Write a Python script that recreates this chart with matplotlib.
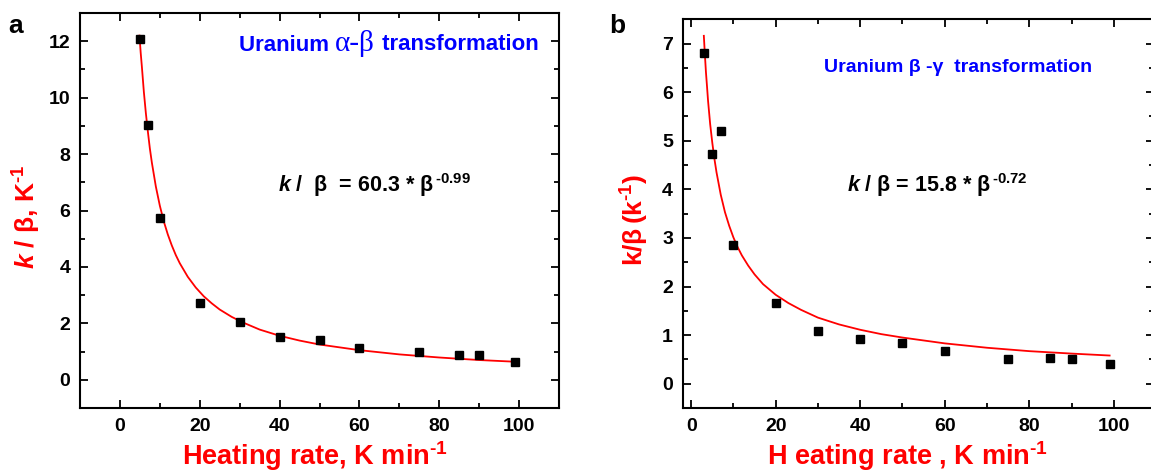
import matplotlib
matplotlib.use("Agg")
import matplotlib.pyplot as plt
from matplotlib.ticker import MultipleLocator

# ----- DATA -----
# panel a: Uranium alpha-beta
rate_a = [5, 7, 10, 20, 30, 40, 50, 60, 75, 85, 90, 99]
kb_a   = [12.07, 9.03, 5.73, 2.73, 2.05, 1.50, 1.42, 1.12, 0.97, 0.88, 0.87, 0.63]
fit_x_a = [4.9, 5.2, 5.5, 6, 6.5, 7, 7.5, 8, 9, 10, 11, 12, 13, 14, 15, 17, 19, 21, 23, 25,
           28, 31, 35, 40, 45, 50, 60, 70, 80, 90, 99]
fit_y_a = [12.2, 11.6, 11.1, 10.2, 9.45, 8.8, 8.2, 7.7, 6.85, 6.17, 5.61, 5.15, 4.76, 4.42,
           4.13, 3.65, 3.27, 2.96, 2.71, 2.49, 2.23, 2.02, 1.78, 1.56, 1.39, 1.25, 1.05,
           0.90, 0.79, 0.70, 0.64]

# panel b: Uranium beta-gamma
rate_b = [3, 5, 7, 10, 20, 30, 40, 50, 60, 75, 85, 90, 99]
kb_b   = [6.80, 4.72, 5.20, 2.86, 1.66, 1.09, 0.91, 0.84, 0.67, 0.51, 0.53, 0.51, 0.41]
fit_x_b = [3, 3.25, 3.5, 3.75, 4, 4.5, 5, 5.5, 6, 7, 8, 9, 10, 11, 12, 13.5, 15, 17, 20,
           23, 26, 30, 35, 40, 45, 50, 60, 70, 80, 90, 99]
fit_y_b = [7.16, 6.77, 6.41, 6.12, 5.82, 5.34, 4.96, 4.63, 4.35, 3.89, 3.53, 3.25, 3.01,
           2.81, 2.64, 2.43, 2.25, 2.05, 1.83, 1.66, 1.52, 1.36, 1.22, 1.11, 1.02, 0.95,
           0.83, 0.74, 0.67, 0.62, 0.58]

plt.rcParams['font.family'] = ['Liberation Sans', 'DejaVu Sans']
plt.rcParams['font.weight'] = 'bold'
plt.rcParams['axes.labelweight'] = 'bold'
plt.rcParams['mathtext.fontset'] = 'custom'
plt.rcParams['mathtext.rm'] = 'Liberation Sans:bold'
plt.rcParams['mathtext.bf'] = 'Liberation Sans:bold'
plt.rcParams['mathtext.it'] = 'Liberation Sans:bold:italic'
plt.rcParams['mathtext.default'] = 'bf'

W, H = 1151, 475
fig = plt.figure(figsize=(W / 100, H / 100), dpi=100)


def px_axes(left, right, top, bottom):
    return fig.add_axes([left / W, 1 - bottom / H, (right - left) / W, (bottom - top) / H])


def style(ax):
    for s in ax.spines.values():
        s.set_linewidth(1.5)
    ax.tick_params(which='both', direction='in', top=True, right=True,
                   width=1.3, labelsize=14, pad=7)
    ax.tick_params(which='major', length=6)
    ax.tick_params(which='minor', length=3.5)
    fmt = lambda v, pos: f"{v:g}"
    ax.xaxis.set_major_formatter(fmt)
    ax.yaxis.set_major_formatter(fmt)
    plt.setp(ax.get_xticklabels() + ax.get_yticklabels(), fontweight='bold')


# ----- panel a -----
ax1 = px_axes(80, 559, 13, 408)
ax1.plot(fit_x_a, fit_y_a, color='red', lw=1.3, zorder=2)
ax1.plot(rate_a, kb_a, 's', color='black', ms=6.3, zorder=3)
ax1.set_xlim(-10, 110)
ax1.set_ylim(-1, 13)
ax1.xaxis.set_major_locator(MultipleLocator(20))
ax1.xaxis.set_minor_locator(MultipleLocator(10))
ax1.yaxis.set_major_locator(MultipleLocator(2))
ax1.yaxis.set_minor_locator(MultipleLocator(1))
style(ax1)
ax1.set_xlabel(r"Heating rate, K min$^{\text{-1}}$", color='red', fontsize=19.5,
               fontweight='bold', labelpad=3)
ax1.set_ylabel(r"$\mathit{k}$ / β, K$^{\text{-1}}$", color='red', fontsize=19,
               fontweight='bold', labelpad=4)
ax1.xaxis.label.set_x(0.49)
ax1.yaxis.label.set_y(0.4835)
t1 = ax1.text((239 - 80) / 479, (408 - 51) / 395, "Uranium ", transform=ax1.transAxes,
              color='blue', fontsize=16, fontweight='bold', ha='left', va='baseline')
t2 = ax1.annotate("α-β", xy=(1, 0), xycoords=t1, xytext=(0, -1), textcoords='offset points',
                  color='blue', fontsize=21, fontweight='normal', family='Liberation Serif',
                  ha='left', va='bottom')
ax1.annotate(" transformation", xy=(1, 0), xycoords=t2, xytext=(1, 2), textcoords='offset points',
             color='blue', fontsize=16, fontweight='bold', ha='left', va='bottom')
ax1.text(0.614, 0.565, r"$\mathit{k}$ /  β  = 60.3 * β$^{\,\text{-0.99}}$", transform=ax1.transAxes,
         color='black', fontsize=15.5, fontweight='bold', ha='center', va='center')
fig.text(16 / W, 1 - 26 / H, "a", fontsize=19, fontweight='bold', ha='center', va='center')

# ----- panel b -----
ax2 = px_axes(682.7, 1154, 19.3, 408)
ax2.plot(fit_x_b, fit_y_b, color='red', lw=1.3, zorder=2)
ax2.plot(rate_b, kb_b, 's', color='black', ms=6.0, zorder=3)
ax2.set_xlim(-2, 109.5)
ax2.set_ylim(-0.5, 7.5)
ax2.xaxis.set_major_locator(MultipleLocator(20))
ax2.xaxis.set_minor_locator(MultipleLocator(10))
ax2.yaxis.set_major_locator(MultipleLocator(1))
ax2.yaxis.set_minor_locator(MultipleLocator(0.5))
style(ax2)
ax2.set_xlabel(r"H eating rate , K min$^{\text{-1}}$", color='red', fontsize=19.5,
               fontweight='bold', labelpad=3)
ax2.set_ylabel(r"k/β$\,$(k$^{\text{-1}}$)", color='red', fontsize=19,
               fontweight='bold', labelpad=8)
ax2.xaxis.label.set_x(0.478)
ax2.yaxis.label.set_y(0.4837)
ax2.text((958 - 682.7) / 471.3, (408 - 67) / 388.7, "Uranium β -γ  transformation",
         transform=ax2.transAxes, color='blue', fontsize=14, fontweight='bold',
         ha='center', va='center')
ax2.text((937 - 682.7) / 471.3, (408 - 185) / 388.7, r"$\mathit{k}$ / β = 15.8 * β$^{\,\text{-0.72}}$",
         transform=ax2.transAxes, color='black', fontsize=15.5, fontweight='bold',
         ha='center', va='center')
fig.text(617 / W, 1 - 26 / H, "b", fontsize=19, fontweight='bold', ha='center', va='center')

fig.savefig("out.png", dpi=100)
